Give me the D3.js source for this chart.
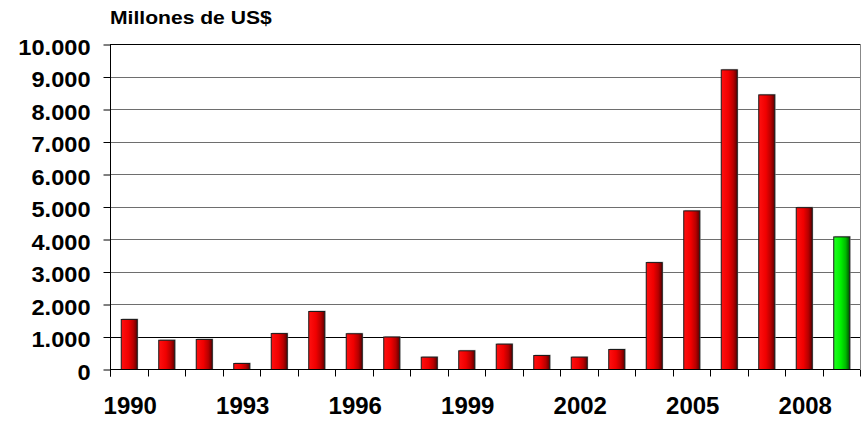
<!DOCTYPE html>
<html><head><meta charset="utf-8">
<script src="https://cdn.jsdelivr.net/npm/d3@7"></script>
<style>body{margin:0;background:#fff}svg{display:block}text{font-family:"Liberation Sans",Arial,Helvetica,sans-serif;font-weight:bold;fill:#000}</style>
</head><body>
<svg id="c" width="862" height="422"></svg>
<script>
const years = ["1990","1991","1992","1993","1994","1995","1996","1997","1998","1999","2000","2001","2002","2003","2004","2005","2006","2007","2008","2009"];
const values = [1540,900,925,185,1105,1785,1100,1000,380,575,780,430,380,615,3290,4880,9220,8450,4980,4080];
const highlightYear = "2009";
const yTicks = [0,1000,2000,3000,4000,5000,6000,7000,8000,9000,10000];
const xLabelYears = ["1990","1993","1996","1999","2002","2005","2008"];
const title = "Millones de US$";

const svg = d3.select("#c");
const L = 110, R = 860, T = 44, B = 369;
const x = d3.scaleBand().domain(years).range([L, R]).paddingInner(0.573).paddingOuter(0.2865);
const y = d3.scaleLinear().domain([0, 10000]).range([B, T]);
const step = x.step();
const fmt = v => d3.format(",")(v).replace(/,/g, ".");

const defs = svg.append("defs");
function grad(id, stops) {
  const g = defs.append("linearGradient").attr("id", id).attr("x1", "0").attr("x2", "1").attr("y1", "0").attr("y2", "0");
  stops.forEach(s => g.append("stop").attr("offset", s[0]).attr("stop-color", s[1]));
}
grad("gRed", [["0%", "#ff1010"], ["45%", "#f00000"], ["75%", "#b80000"], ["100%", "#600000"]]);
grad("gGreen", [["0%", "#20ff20"], ["45%", "#00f000"], ["75%", "#00b800"], ["100%", "#005000"]]);

// gridlines
svg.append("g").selectAll("line").data(yTicks.filter(d => d > 0)).join("line")
  .attr("x1", L).attr("x2", R).attr("y1", d => Math.round(y(d)) + 0.5).attr("y2", d => Math.round(y(d)) + 0.5)
  .attr("stroke", d => (d === 1000 || d === 10000) ? "#000" : "#6e6e6e").attr("stroke-width", 1);

// right border
svg.append("line").attr("x1", R + 0.5).attr("x2", R + 0.5).attr("y1", T).attr("y2", B).attr("stroke", "#888");

// bars shadow
const bars = years.map((yr, i) => ({ yr, v: values[i] }));
svg.append("g").selectAll("rect").data(bars).join("rect")
  .attr("x", d => x(d.yr) + 1.5).attr("y", d => y(d.v) - 0.5)
  .attr("width", x.bandwidth()).attr("height", d => B - y(d.v) + 0.5)
  .attr("fill", "#a8a8a8").attr("opacity", 0.7);
// bars
svg.append("g").selectAll("rect").data(bars).join("rect")
  .attr("x", d => x(d.yr) + 0.5).attr("y", d => y(d.v) + 0.5)
  .attr("width", x.bandwidth()).attr("height", d => B - y(d.v))
  .attr("fill", d => d.yr === highlightYear ? "url(#gGreen)" : "url(#gRed)")
  .attr("stroke", "#1a1a1a").attr("stroke-width", 1);

// y axis
const yAxis = d3.axisLeft(y).tickValues(yTicks).tickSize(7).tickPadding(13).tickFormat(fmt);
const ga = svg.append("g").attr("transform", `translate(${L + 0.5},0.5)`).call(yAxis);
ga.select(".domain").attr("stroke", "#000").attr("d", `M0,${T}V${B + 7}`);
ga.selectAll(".tick line").attr("stroke", "#000");
ga.selectAll(".tick text").style("font-size", "23.6px").attr("y", 2).attr("dy", "0.36em")
  .attr("transform", "scale(1,0.95)");

// x axis
const gx = svg.append("g").attr("transform", `translate(0,${B + 0.5})`);
gx.append("line").attr("x1", L).attr("x2", R).attr("stroke", "#000");
gx.selectAll("line.tk").data(d3.range(years.length + 1)).join("line").attr("class", "tk")
  .attr("x1", i => Math.round(L + i * step) + 0.5).attr("x2", i => Math.round(L + i * step) + 0.5)
  .attr("y1", 0).attr("y2", 7).attr("stroke", "#000");
gx.selectAll("text").data(xLabelYears).join("text")
  .attr("x", d => x(d) + x.bandwidth() / 2 + 1.5).attr("y", 44.8)
  .attr("text-anchor", "middle").style("font-size", "24px").text(d => d);

// title
svg.append("text").attr("transform", "translate(110,24.3) scale(1.135,1)")
  .style("font-size", "18.6px").text(title);
</script>
</body></html>
